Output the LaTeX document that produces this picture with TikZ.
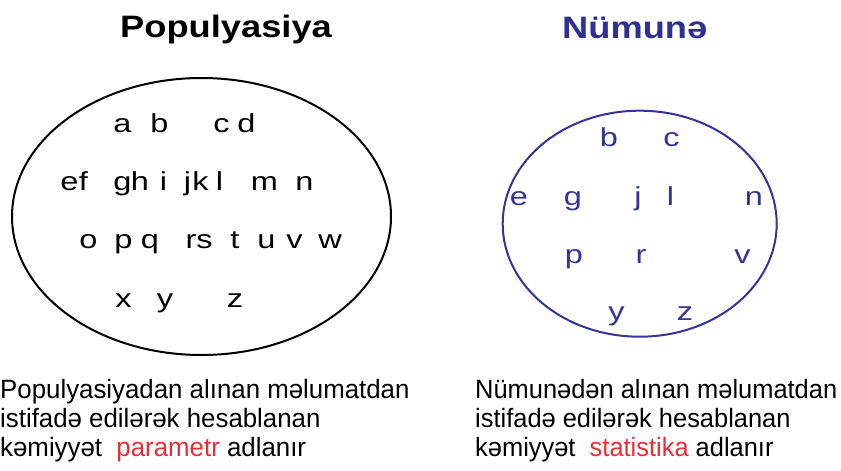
\documentclass[tikz,border=0pt]{standalone}
\usepackage{fontspec}
\setmainfont{Liberation Sans}
\newfontfamily\titlefont[FakeStretch=1.17]{Liberation Sans}
\newfontfamily\letterfont[FakeStretch=1.25]{Liberation Sans}
\newfontfamily\captionfont[FakeStretch=0.975]{Liberation Sans}
\newfontfamily\captionfontR[FakeStretch=0.96]{Liberation Sans}
\definecolor{smpblue}{RGB}{52,52,150}
\definecolor{titleblue}{RGB}{46,49,146}
\definecolor{hlred}{RGB}{232,45,55}
\tikzset{
  ttl/.style={anchor=base west, inner sep=0pt, font=\titlefont\fontsize{31}{31}\selectfont\bfseries},
  ltr/.style={anchor=base, inner sep=0pt, font=\letterfont\fontsize{26}{26}\selectfont},
  caption/.style={anchor=base west, inner sep=0pt, font=\captionfont\fontsize{26.5}{29}\selectfont},
  captionR/.style={anchor=base west, inner sep=0pt, font=\captionfontR\fontsize{26.5}{29}\selectfont},
  popring/.style={draw=black, line width=2pt},
  smpring/.style={draw=smpblue, line width=2pt}
}
\begin{document}
\begin{tikzpicture}[x=1pt,y=-1pt]
\useasboundingbox (0,0) rectangle (841,471);
% titles
\node[ttl] (tpop) at (120,37) {Populyasiya};
\node[ttl, text=titleblue] (tsmp) at (562,38) {Nümunə};
% ellipses
\draw[popring] (201.5,216.5) ellipse [x radius=189.5, y radius=138.5];
\draw[smpring] (639.7,223.7) ellipse [x radius=137, y radius=113];
% population letters
\foreach \ch/\x/\y in {a/122.5/132, b/159.5/132, c/221.5/132, d/246.5/132,
  e/69.5/190, f/83.5/190, g/122.5/190, h/140/190, i/163.5/190, j/187.5/190, k/200.5/190, l/219.5/190, m/264.5/190, n/304.5/190,
  o/88.5/248, p/123.5/248, q/150/248, r/191/248, s/204.5/248, t/235/248, u/266.5/248, v/294.5/248, w/330/248,
  x/123.5/307, y/165/307, z/235/307}
  \node[ltr] (P\ch) at (\x,\y) {\ch};
% sample letters
\foreach \ch/\x/\y in {b/609/146.7, c/671.5/146.7,
  e/519/205, g/573/205, j/638/205, l/670.5/205, n/754/205,
  p/574/263, r/641/263, v/742.5/263,
  y/616.5/320, z/685/320}
  \node[ltr, text=smpblue] (S\ch) at (\x,\y) {\ch};
% captions
\node[caption] (c1a) at (0,398) {Populyasiyadan alınan məlumatdan};
\node[caption] (c1b) at (0,427) {istifadə edilərək hesablanan};
\node[caption] (c1c) at (0,456) {kəmiyyət\ \ \textcolor{hlred}{parametr} adlanır};
\node[captionR] (c2a) at (475,398) {Nümunədən alınan məlumatdan};
\node[captionR] (c2b) at (475,427) {istifadə edilərək hesablanan};
\node[captionR] (c2c) at (475,456) {kəmiyyət\ \ \textcolor{hlred}{statistika} adlanır};
\end{tikzpicture}
\end{document}
